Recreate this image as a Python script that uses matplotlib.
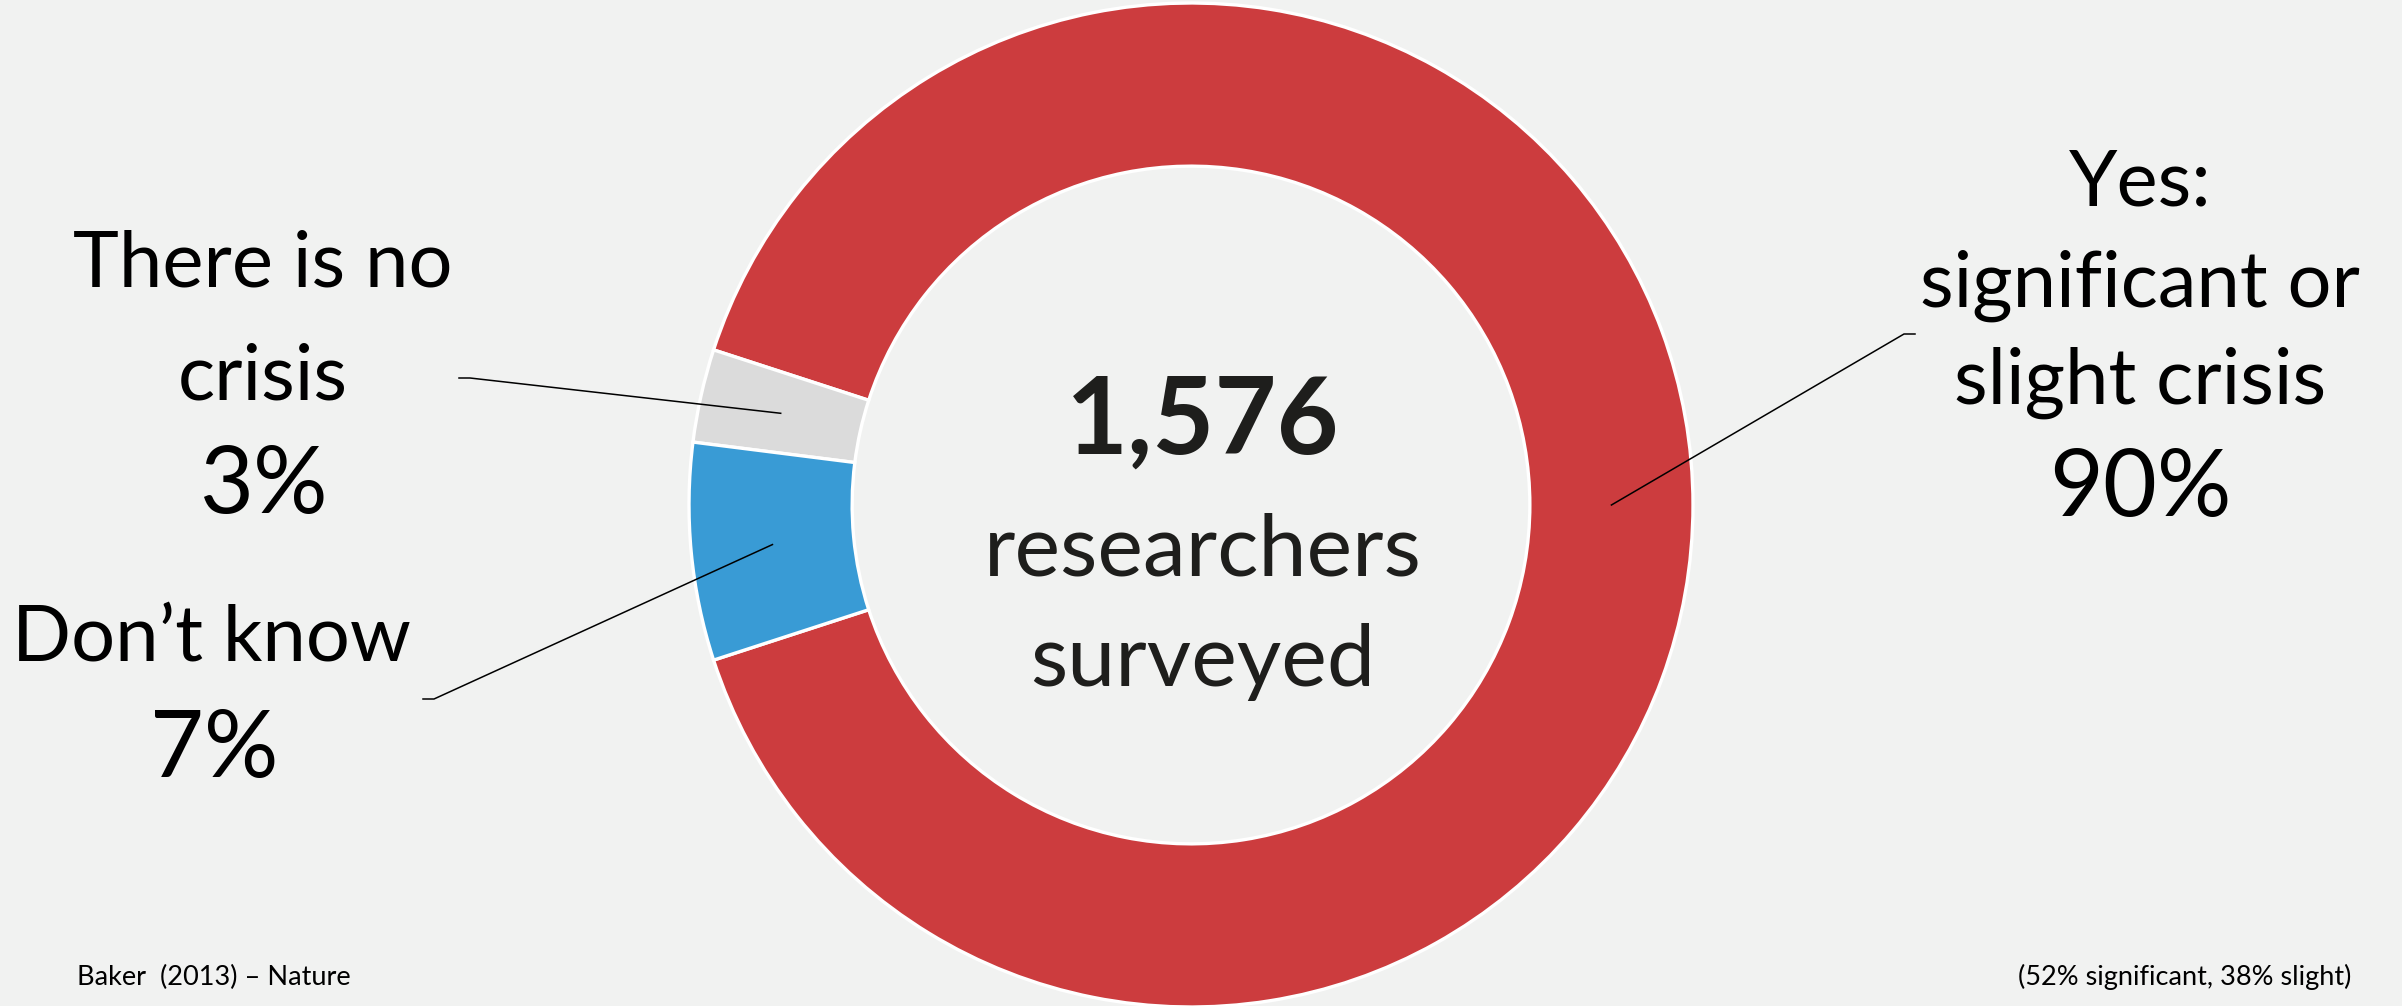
import matplotlib
matplotlib.use("Agg")
import matplotlib.pyplot as plt
import numpy as np

# survey answers (Baker 2016, Nature)
shares = [90, 3, 7]
colors = ["#CC3C3E", "#DBDBDB", "#399BD5"]
labels = ["Yes:\nsignificant or\nslight crisis", "There is no\ncrisis", "Don\u2019t know"]
pct_labels = ["90%", "3%", "7%"]
respondents = "1,576"

plt.rcParams["font.family"] = ["Lato", "DejaVu Sans"]

W, H = 2402, 1006
bg = "#F1F2F1"
fig = plt.figure(figsize=(W / 100, H / 100), dpi=100, facecolor=bg)
ax = fig.add_axes([0, 0, 1, 1])
ax.set_facecolor(bg)

cx, cy, R = 1191, 501, 502
wedges, _ = ax.pie(shares, colors=colors, startangle=-162, center=(cx, cy), radius=R,
                   wedgeprops=dict(width=R * 0.325, edgecolor="white", linewidth=2.4),
                   frame=True)
ax.set_xlim(0, W)
ax.set_ylim(0, H)
ax.set_aspect("equal")
ax.axis("off")

# leader lines: anchor at middle of ring, elbow near label
elbows = [(1904, 672, 1), (470, 628, -1), (434, 307, -1)]
rmid = R * (1 - 0.325 / 2)
for w, (ex, ey, d) in zip(wedges, elbows):
    a = np.deg2rad((w.theta1 + w.theta2) / 2)
    px, py = cx + rmid * np.cos(a), cy + rmid * np.sin(a)
    ax.plot([px, ex, ex + d * 11], [py, ey, ey], color="black", lw=1.1)

lab = 56
pct = 67

# labels
ax.text(2140, H - 184, "Yes:", ha="center", va="center", fontsize=lab)
ax.text(2140, H - 286, "significant or", ha="center", va="center", fontsize=lab)
ax.text(2140, H - 383, "slight crisis", ha="center", va="center", fontsize=lab)
ax.text(2140, H - 490, pct_labels[0], ha="center", va="center", fontsize=pct)

ax.text(263, H - 265, "There is no", ha="center", va="center", fontsize=lab)
ax.text(263, H - 378, "crisis", ha="center", va="center", fontsize=lab)
ax.text(263, H - 487, pct_labels[1], ha="center", va="center", fontsize=pct)

ax.text(212, H - 639, labels[2], ha="center", va="center", fontsize=lab)
ax.text(214, H - 751, pct_labels[2], ha="center", va="center", fontsize=pct)

# centre text
ax.text(1203, H - 423, respondents, ha="center", va="center", fontsize=77,
        fontweight="bold", color="#1E1E1C")
ax.text(1203, H - 551, "researchers", ha="center", va="center", fontsize=62, color="#1E1E1C")
ax.text(1203, H - 662, "surveyed", ha="center", va="center", fontsize=62, color="#1E1E1C")

ax.text(77, H - 977, "Baker  (2013) \u2013 Nature", ha="left", va="center", fontsize=19.5)
ax.text(2351, H - 977, "(52% significant, 38% slight)", ha="right", va="center", fontsize=19.5)

fig.savefig("out.png", dpi=100, facecolor=bg)
